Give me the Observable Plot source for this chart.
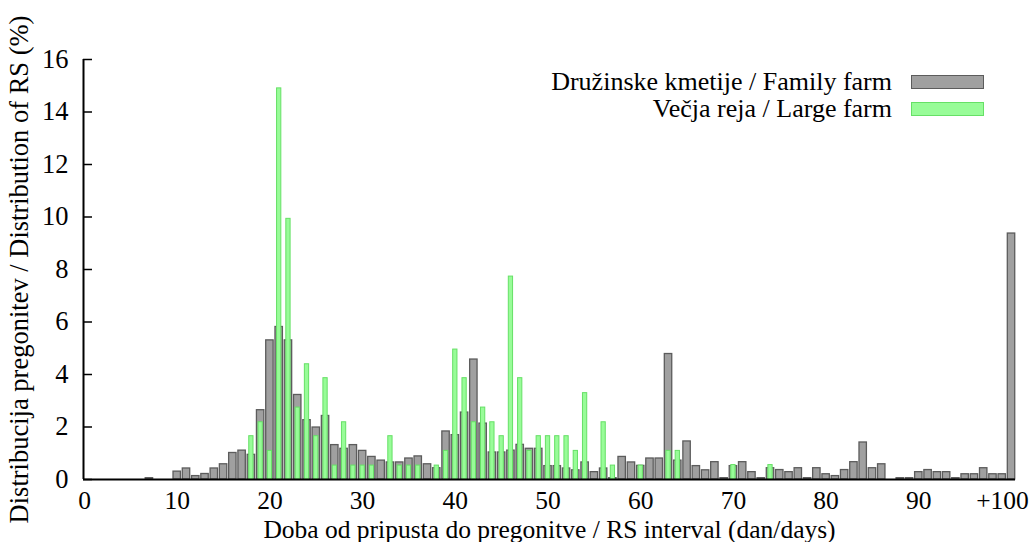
<!DOCTYPE html>
<html>
<head>
<meta charset="utf-8">
<script src="https://cdn.jsdelivr.net/npm/d3@7"></script>
<script src="https://cdn.jsdelivr.net/npm/@observablehq/plot@0.6"></script>
<style>
  html, body { margin: 0; padding: 0; background: #fff; }
  #wrap { position: relative; width: 1032px; height: 542px; font-family: "Liberation Serif", serif; }
  #wrap svg, #wrap svg text { font-family: "Liberation Serif", serif !important; }
  .leg { position: absolute; font-size: 26px; line-height: 27px; color: #000; }
  .leg .row { display: flex; align-items: center; justify-content: flex-end; height: 27px; }
  .leg .row span { line-height: 24px; }
  .leg .sw { width: 73px; height: 14px; margin-left: 19px; box-sizing: border-box; }
</style>
</head>
<body>
<div id="wrap"></div>
<script>
// Days 1..100 (100 = "+100")
const days = d3.range(1, 101);

// Družinske kmetije / Family farm (%), day 1..100
const familyFarm = [
  0, 0, 0, 0, 0, 0, 0.05, 0, 0, 0.30,
  0.42, 0.13, 0.21, 0.42, 0.58, 1.01, 1.10, 0.94, 2.64, 5.30,
  5.81, 5.30, 3.22, 2.26, 1.98, 2.42, 1.31, 1.17, 1.31, 1.09,
  0.86, 0.72, 0.65, 0.65, 0.80, 0.88, 0.58, 0.43, 1.83, 1.69,
  2.55, 4.57, 2.13, 1.03, 1.03, 1.10, 1.32, 1.17, 1.17, 0.51,
  0.51, 0.42, 0.35, 0.65, 0.28, 0.42, 0.05, 0.86, 0.65, 0.52,
  0.80, 0.80, 4.78, 0.72, 1.45, 0.51, 0.35, 0.66, 0.05, 0.51,
  0.66, 0.28, 0.05, 0.43, 0.36, 0.28, 0.43, 0.05, 0.43, 0.20,
  0.13, 0.36, 0.66, 1.41, 0.43, 0.58, 0, 0.05, 0.05, 0.28,
  0.36, 0.28, 0.28, 0.05, 0.20, 0.20, 0.43, 0.20, 0.20, 9.37
];

// Večja reja / Large farm (%), day 1..100
const largeFarm = [
  0, 0, 0, 0, 0, 0, 0, 0, 0, 0,
  0, 0, 0, 0, 0, 0, 0, 1.65, 2.18, 1.09,
  14.9, 9.93, 2.74, 4.39, 1.65, 3.86, 0.53, 2.18, 0.53, 0.53,
  0.53, 0, 1.65, 0.53, 0.53, 0.53, 0, 0.53, 1.09, 4.95,
  3.86, 2.18, 2.74, 2.18, 1.65, 7.73, 3.86, 1.09, 1.65, 1.65,
  1.65, 1.65, 1.09, 3.29, 0, 2.18, 0.53, 0, 0, 0.53,
  0, 0, 1.09, 1.09, 0, 0, 0, 0, 0, 0.55,
  0, 0, 0, 0.55, 0, 0, 0, 0, 0, 0,
  0, 0, 0, 0, 0, 0, 0, 0, 0, 0,
  0, 0, 0, 0, 0, 0, 0, 0, 0, 0
];

const xTicks = [0, 10, 20, 30, 40, 50, 60, 70, 80, 90];
const xLastTick = [100];
const xLastLabel = "+100";
const yTicks = [0, 2, 4, 6, 8, 10, 12, 14, 16];
const xDomain = [-0.11, 100.43];
const yDomain = [0, 16];

const seriesNames = ["Družinske kmetije / Family farm", "Večja reja / Large farm"];
const xTitle = "Doba od pripusta do pregonitve / RS interval (dan/days)";
const yTitle = "Distribucija pregonitev / Distribution of RS (%)";

const familyData = days.map((d, i) => ({day: d, value: familyFarm[i]})).filter(d => d.value > 0);
const largeData = days.map((d, i) => ({day: d, value: largeFarm[i]})).filter(d => d.value > 0);

const greyFill = "#a0a0a0", greyStroke = "#5c5c5c";
const greenFill = "#98fc98", greenStroke = "#66e066";
const fs = 26.5;
const fsX = 25.5;

const chart = Plot.plot({
  width: 1032,
  height: 542,
  marginLeft: 83,
  marginRight: 17,
  marginTop: 59,
  marginBottom: 63,
  style: {fontFamily: "Liberation Serif", fontSize: fs + "px", background: "white", color: "black"},
  x: {type: "linear", domain: xDomain},
  y: {domain: yDomain},
  marks: [
    Plot.rectY(familyData, {x1: d => d.day - 0.4, x2: d => d.day + 0.4, y1: 0, y2: "value",
      fill: greyFill, stroke: greyStroke, strokeWidth: 1.3}),
    Plot.rectY(largeData, {x1: d => d.day - 0.23, x2: d => d.day + 0.23, y1: 0, y2: "value",
      fill: greenFill, stroke: greenStroke, strokeWidth: 1}),
    Plot.ruleY([yDomain[0]], {stroke: "black", strokeWidth: 2}),
    Plot.ruleX([xDomain[0]], {stroke: "black", strokeWidth: 2}),
    Plot.axisY({ticks: yTicks, tickSize: -9, strokeWidth: 1.5, text: null, label: null}),
    Plot.axisY({ticks: yTicks, tickSize: 0, tickPadding: 15, fontSize: fs, label: null, tickFormat: d => String(d)}),
    Plot.axisX({ticks: xTicks, tickSize: 0, tickPadding: 11, fontSize: fsX, label: null, tickFormat: d => String(d)}),
    Plot.axisX({ticks: xLastTick, tickSize: 0, tickPadding: 11, fontSize: fsX, label: null, dx: -9, tickFormat: () => xLastLabel}),
    Plot.text([xTitle], {frameAnchor: "bottom", dy: 58, lineAnchor: "bottom", fontSize: fsX, fill: "black"}),
    Plot.text([yTitle], {frameAnchor: "left", dx: -64, rotate: -90, textAnchor: "middle", lineAnchor: "middle", fontSize: fs, fill: "black"})
  ]
});

const wrap = document.getElementById("wrap");
wrap.appendChild(chart);

const leg = document.createElement("div");
leg.className = "leg";
leg.style.right = (1032 - 984) + "px";
leg.style.top = "68px";
[[seriesNames[0], greyFill, greyStroke], [seriesNames[1], greenFill, greenStroke]].forEach(([name, f, s]) => {
  const row = document.createElement("div");
  row.className = "row";
  const t = document.createElement("span");
  t.textContent = name;
  const sw = document.createElement("span");
  sw.className = "sw";
  sw.style.background = f;
  sw.style.border = "1px solid " + s;
  row.appendChild(t);
  row.appendChild(sw);
  leg.appendChild(row);
});
wrap.appendChild(leg);
</script>
</body>
</html>
